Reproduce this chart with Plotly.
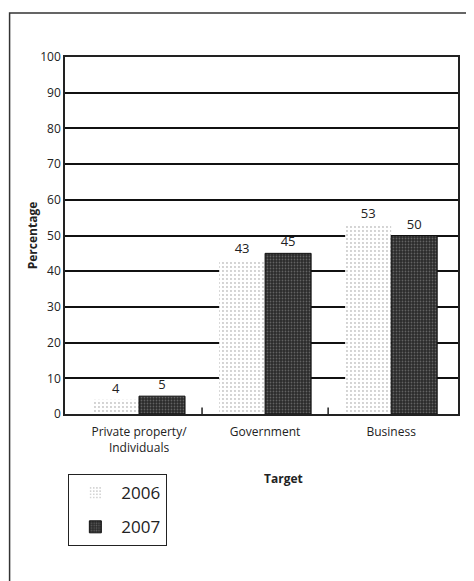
import plotly.graph_objects as go

categories = ["Private property/<br>Individuals", "Government", "Business"]
years = ["2006", "2007"]
values_2006 = [4, 43, 53]
values_2007 = [5, 45, 50]
y_ticks = [0, 10, 20, 30, 40, 50, 60, 70, 80, 90, 100]

FONT = "Open Sans, Noto Sans, DejaVu Sans, sans-serif"

fig = go.Figure()
fig.add_trace(go.Bar(
    name=years[0], x=list(range(len(categories))), y=values_2006,
    legendgroup="a",
    text=[str(v) for v in values_2006], textposition="outside",
    textfont=dict(size=13, color="#222", family=FONT),
    marker=dict(color="white", line=dict(width=0),
                pattern=dict(shape=".", fgcolor="#8a8a8a", bgcolor="white",
                             size=4, solidity=0.18)),
    cliponaxis=False,
))
fig.add_trace(go.Bar(
    name=years[1], x=list(range(len(categories))), y=values_2007,
    legendgroup="b",
    text=[str(v) for v in values_2007], textposition="outside",
    textfont=dict(size=13, color="#222", family=FONT),
    marker=dict(color="#2a2a2a", line=dict(width=1, color="#111"),
                pattern=dict(shape=".", fgcolor="#9a9a9a", bgcolor="#2a2a2a",
                             size=3, solidity=0.28)),
    cliponaxis=False,
))

fig.update_layout(
    width=466, height=573,
    margin=dict(l=57, r=16, t=49, b=167),
    paper_bgcolor="white", plot_bgcolor="white",
    font=dict(family=FONT, color="#222", size=12),
    barmode="group", bargap=0.27, bargroupgap=0.0,
    showlegend=True,
    legend=dict(x=0.008, y=-0.168, xanchor="left", yanchor="top",
                orientation="v", bordercolor="#222", borderwidth=1.2,
                bgcolor="white", font=dict(size=17, family=FONT, color="#222"),
                itemwidth=42, tracegroupgap=9),
    xaxis=dict(
        tickmode="array", tickvals=list(range(len(categories))), ticktext=categories,
        range=[-0.587, 2.53], showgrid=False, zeroline=False,
        showline=True, linecolor="#222", linewidth=1.5, mirror=True,
        ticks="", ticklabelstandoff=6,
        tickfont=dict(size=12, family=FONT, color="#222"),
    ),
    yaxis=dict(
        range=[0, 100], tickvals=y_ticks, showgrid=True, gridcolor="#111",
        gridwidth=1.5, zeroline=False, showline=True, linecolor="#222",
        linewidth=1.5, mirror=True, ticks="",
        tickfont=dict(size=12, family=FONT, color="#222"),
        title=dict(text="<b>Percentage</b>", font=dict(size=12, family=FONT, color="#222"),
                   standoff=0),
    ),
    annotations=[dict(text="<b>Target</b>", x=0.555, y=-0.182, xref="paper", yref="paper",
                      showarrow=False, font=dict(size=12, family=FONT, color="#222"),
                      xanchor="center", yanchor="middle")],
    shapes=[
        dict(type="rect", xref="paper", yref="paper", x0=-0.141, x1=1.3, y0=-0.6, y1=1.123,
             line=dict(color="#333", width=1.5), layer="below"),
        dict(type="line", xref="x", yref="y", x0=0.5, x1=0.5, y0=0, y1=1.8,
             line=dict(color="#222", width=1.5)),
        dict(type="line", xref="x", yref="y", x0=1.5, x1=1.5, y0=0, y1=1.8,
             line=dict(color="#222", width=1.5)),
    ],
)

fig.write_html("out.html")
